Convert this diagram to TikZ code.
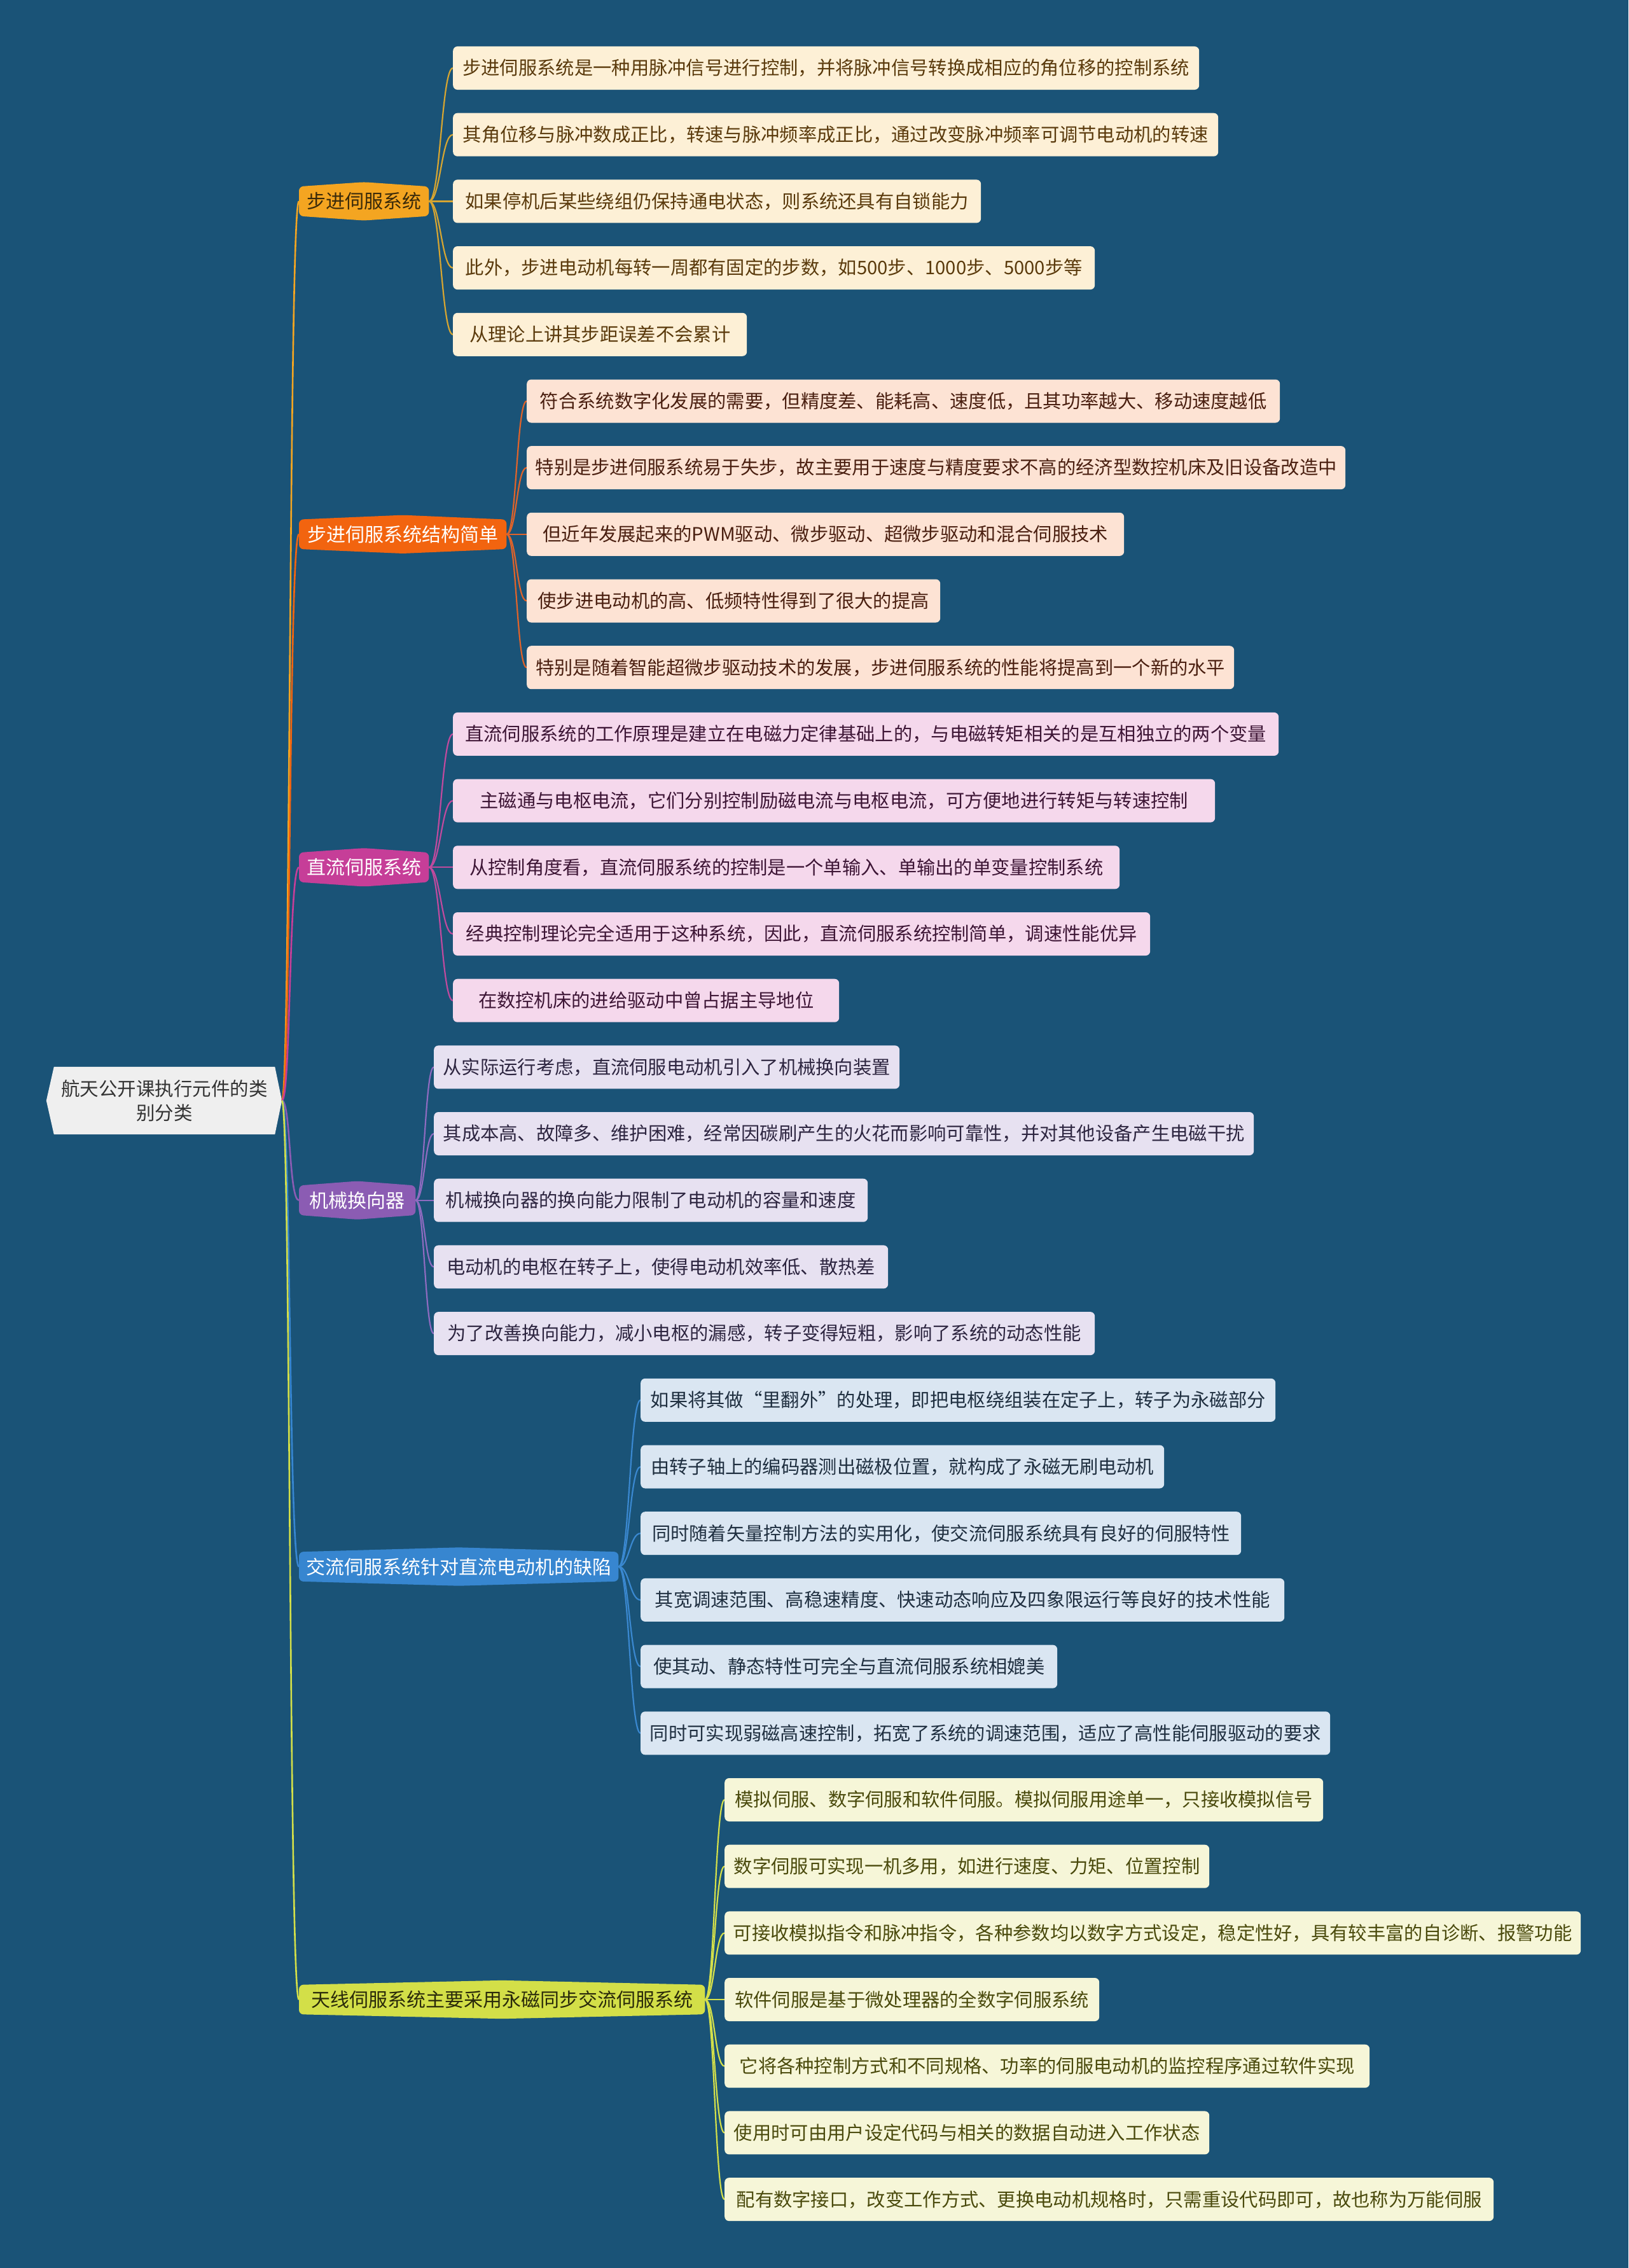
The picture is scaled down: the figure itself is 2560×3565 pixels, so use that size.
\documentclass[tikz,border=0pt]{standalone}
\usepackage{fontspec}
\setmainfont{Noto Sans CJK SC}
\pgfdeclarelayer{bg}
\pgfsetlayers{bg,main}
\definecolor{bgc}{HTML}{1A5377}
\definecolor{rootfill}{HTML}{EFEFEF}
\definecolor{roottext}{HTML}{333333}
\definecolor{b1c}{HTML}{F4A521}
\definecolor{b2c}{HTML}{F2640F}
\definecolor{b3c}{HTML}{C63E98}
\definecolor{b4c}{HTML}{8B5CB3}
\definecolor{b5c}{HTML}{3786D0}
\definecolor{b6c}{HTML}{D3DF48}
\definecolor{c1}{HTML}{D6A531}
\definecolor{c2}{HTML}{E0632A}
\definecolor{c3}{HTML}{C04A9E}
\definecolor{c4}{HTML}{8E6BC0}
\definecolor{c5}{HTML}{3A88D0}
\definecolor{c6}{HTML}{D4E04A}
\definecolor{f1}{HTML}{FDF0D6}
\definecolor{f2}{HTML}{FDE3D4}
\definecolor{f3}{HTML}{F5D8EC}
\definecolor{f4}{HTML}{E7E1F1}
\definecolor{f5}{HTML}{DAE6F2}
\definecolor{f6}{HTML}{F6F6D8}
\definecolor{t1}{HTML}{5A3A0C}
\definecolor{t2}{HTML}{4A1F10}
\definecolor{t3}{HTML}{3D1535}
\definecolor{t4}{HTML}{2D2540}
\definecolor{t5}{HTML}{1F2F40}
\definecolor{t6}{HTML}{4A4A0C}
\definecolor{bdark}{HTML}{3A2A0A}
\definecolor{bdark6}{HTML}{2A2A0A}
\newcommand\branchbg[2]{%
  \begin{pgfonlayer}{bg}
  \fill[#2, rounded corners=7pt] (#1.south west) -- (#1.north west) -- ([yshift=7pt]#1.north) -- (#1.north east) -- (#1.south east) -- ([yshift=-7pt]#1.south) -- cycle;
  \end{pgfonlayer}}
\begin{document}
\begin{tikzpicture}[x=1pt,y=-1pt,
  leaf/.style={anchor=west, rounded corners=7pt, minimum height=68pt, inner xsep=0pt, font=\fontsize{29.3pt}{35pt}\selectfont},
  g1/.style={leaf, fill=f1, text=t1},
  g2/.style={leaf, fill=f2, text=t2},
  g3/.style={leaf, fill=f3, text=t3},
  g4/.style={leaf, fill=f4, text=t4},
  g5/.style={leaf, fill=f5, text=t5},
  g6/.style={leaf, fill=f6, text=t6},
  branch/.style={anchor=west, minimum height=46pt, inner xsep=0pt, font=\fontsize{30pt}{36pt}\selectfont},
  conn/.style={line width=2.2pt},
  rconn/.style={line width=2.6pt}]
\useasboundingbox (0,0) rectangle (2560,3565);
\begin{pgfonlayer}{bg}
\fill[bgc] (0,0) rectangle (2560,3565);
\end{pgfonlayer}

% root
\node[minimum width=347pt, minimum height=106pt, inner sep=0pt, text=roottext, align=center,
  font=\fontsize{29.5pt}{38pt}\selectfont] (root) at (258.5,1730) {航天公开课执行元件的类\\别分类};
\begin{pgfonlayer}{bg}
\fill[rootfill] (root.north west) -- (root.north east) -- ([xshift=11pt]root.east) -- (root.south east) -- (root.south west) -- ([xshift=-12pt]root.west) -- cycle;
\end{pgfonlayer}
\coordinate (rt) at ([xshift=11pt]root.east);

% branches
\node[branch, minimum width=204pt, text=bdark] (b1) at (470,316.4) {步进伺服系统};
\node[branch, minimum width=326pt, text=white] (b2) at (470,839.8) {步进伺服系统结构简单};
\node[branch, minimum width=204pt, text=white] (b3) at (470,1363.3) {直流伺服系统};
\node[branch, minimum width=183pt, text=white] (b4) at (470,1886.7) {机械换向器};
\node[branch, minimum width=502pt, text=white] (b5) at (470,2462.5) {交流伺服系统针对直流电动机的缺陷};
\node[branch, minimum width=638pt, text=bdark6] (b6) at (470,3143) {天线伺服系统主要采用永磁同步交流伺服系统};
\branchbg{b1}{b1c}
\branchbg{b2}{b2c}
\branchbg{b3}{b3c}
\branchbg{b4}{b4c}
\branchbg{b5}{b5c}
\branchbg{b6}{b6c}

% leaves group 1
\node[g1, minimum width=1173pt] (l1) at (712,107) {步进伺服系统是一种用脉冲信号进行控制，并将脉冲信号转换成相应的角位移的控制系统};
\node[g1, minimum width=1203pt] (l2) at (712,211.7) {其角位移与脉冲数成正比，转速与脉冲频率成正比，通过改变脉冲频率可调节电动机的转速};
\node[g1, minimum width=830pt] (l3) at (712,316.4) {如果停机后某些绕组仍保持通电状态，则系统还具有自锁能力};
\node[g1, minimum width=1009pt] (l4) at (712,421.1) {此外，步进电动机每转一周都有固定的步数，如500步、1000步、5000步等};
\node[g1, minimum width=462pt] (l5) at (712,525.8) {从理论上讲其步距误差不会累计};
% group 2
\node[g2, minimum width=1184pt] (l6) at (828,630.5) {符合系统数字化发展的需要，但精度差、能耗高、速度低，且其功率越大、移动速度越低};
\node[g2, minimum width=1287pt] (l7) at (828,735.1) {特别是步进伺服系统易于失步，故主要用于速度与精度要求不高的经济型数控机床及旧设备改造中};
\node[g2, minimum width=939pt] (l8) at (828,839.8) {但近年发展起来的PWM驱动、微步驱动、超微步驱动和混合伺服技术};
\node[g2, minimum width=650pt] (l9) at (828,944.5) {使步进电动机的高、低频特性得到了很大的提高};
\node[g2, minimum width=1112pt] (l10) at (828,1049.2) {特别是随着智能超微步驱动技术的发展，步进伺服系统的性能将提高到一个新的水平};
% group 3
\node[g3, minimum width=1298pt] (l11) at (712,1153.9) {直流伺服系统的工作原理是建立在电磁力定律基础上的，与电磁转矩相关的是互相独立的两个变量};
\node[g3, minimum width=1198pt] (l12) at (712,1258.6) {主磁通与电枢电流，它们分别控制励磁电流与电枢电流，可方便地进行转矩与转速控制};
\node[g3, minimum width=1048pt] (l13) at (712,1363.3) {从控制角度看，直流伺服系统的控制是一个单输入、单输出的单变量控制系统};
\node[g3, minimum width=1096pt] (l14) at (712,1468.0) {经典控制理论完全适用于这种系统，因此，直流伺服系统控制简单，调速性能优异};
\node[g3, minimum width=607pt] (l15) at (712,1572.7) {在数控机床的进给驱动中曾占据主导地位};
% group 4
\node[g4, minimum width=732pt] (l16) at (682,1677.4) {从实际运行考虑，直流伺服电动机引入了机械换向装置};
\node[g4, minimum width=1289pt] (l17) at (682,1782.0) {其成本高、故障多、维护困难，经常因碳刷产生的火花而影响可靠性，并对其他设备产生电磁干扰};
\node[g4, minimum width=682pt] (l18) at (682,1886.7) {机械换向器的换向能力限制了电动机的容量和速度};
\node[g4, minimum width=714pt] (l19) at (682,1991.4) {电动机的电枢在转子上，使得电动机效率低、散热差};
\node[g4, minimum width=1039pt] (l20) at (682,2096.1) {为了改善换向能力，减小电枢的漏感，转子变得短粗，影响了系统的动态性能};
% group 5
\node[g5, minimum width=998pt] (l21) at (1007,2200.8) {如果将其做“里翻外”的处理，即把电枢绕组装在定子上，转子为永磁部分};
\node[g5, minimum width=823pt] (l22) at (1007,2305.5) {由转子轴上的编码器测出磁极位置，就构成了永磁无刷电动机};
\node[g5, minimum width=944pt] (l23) at (1007,2410.2) {同时随着矢量控制方法的实用化，使交流伺服系统具有良好的伺服特性};
\node[g5, minimum width=1012pt] (l24) at (1007,2514.9) {其宽调速范围、高稳速精度、快速动态响应及四象限运行等良好的技术性能};
\node[g5, minimum width=655pt] (l25) at (1007,2619.6) {使其动、静态特性可完全与直流伺服系统相媲美};
\node[g5, minimum width=1084pt] (l26) at (1007,2724.3) {同时可实现弱磁高速控制，拓宽了系统的调速范围，适应了高性能伺服驱动的要求};
% group 6
\node[g6, minimum width=941pt] (l27) at (1139,2829.0) {模拟伺服、数字伺服和软件伺服。模拟伺服用途单一，只接收模拟信号};
\node[g6, minimum width=762pt] (l28) at (1139,2933.7) {数字伺服可实现一机多用，如进行速度、力矩、位置控制};
\node[g6, minimum width=1346pt] (l29) at (1139,3038.4) {可接收模拟指令和脉冲指令，各种参数均以数字方式设定，稳定性好，具有较丰富的自诊断、报警功能};
\node[g6, minimum width=589pt] (l30) at (1139,3143.0) {软件伺服是基于微处理器的全数字伺服系统};
\node[g6, minimum width=1014pt] (l31) at (1139,3247.7) {它将各种控制方式和不同规格、功率的伺服电动机的监控程序通过软件实现};
\node[g6, minimum width=762pt] (l32) at (1139,3352.4) {使用时可由用户设定代码与相关的数据自动进入工作状态};
\node[g6, minimum width=1209pt] (l33) at (1139,3457.1) {配有数字接口，改变工作方式、更换电动机规格时，只需重设代码即可，故也称为万能伺服};

% connectors
\begin{pgfonlayer}{bg}
\draw[rconn, b1c] (rt) .. controls +(14,0) and +(-16,0) .. (b1.west);
\draw[rconn, b2c] (rt) .. controls +(14,0) and +(-16,0) .. (b2.west);
\draw[rconn, b3c] (rt) .. controls +(14,0) and +(-16,0) .. (b3.west);
\draw[rconn, b4c] (rt) .. controls +(14,0) and +(-16,0) .. (b4.west);
\draw[rconn, b5c] (rt) .. controls +(14,0) and +(-16,0) .. (b5.west);
\draw[rconn, b6c] (rt) .. controls +(14,0) and +(-16,0) .. (b6.west);
\foreach \i in {1,...,5} \draw[conn, c1] (b1.east) .. controls +(18,0) and +(-18,0) .. (l\i.west);
\foreach \i in {6,...,10} \draw[conn, c2] (b2.east) .. controls +(16,0) and +(-16,0) .. (l\i.west);
\foreach \i in {11,...,15} \draw[conn, c3] (b3.east) .. controls +(18,0) and +(-18,0) .. (l\i.west);
\foreach \i in {16,...,20} \draw[conn, c4] (b4.east) .. controls +(14,0) and +(-14,0) .. (l\i.west);
\foreach \i in {21,...,26} \draw[conn, c5] (b5.east) .. controls +(17,0) and +(-17,0) .. (l\i.west);
\foreach \i in {27,...,33} \draw[conn, c6] (b6.east) .. controls +(15,0) and +(-15,0) .. (l\i.west);
\end{pgfonlayer}
\end{tikzpicture}
\end{document}
